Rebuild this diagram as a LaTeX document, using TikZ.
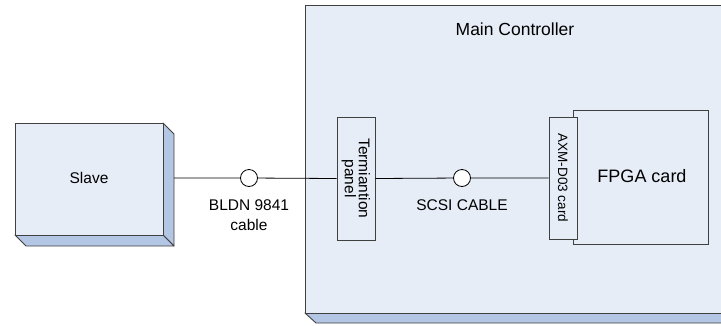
\documentclass[tikz,border=0pt]{standalone}
\usepackage{fontspec}
\setmainfont{Liberation Sans}
\definecolor{frontc}{HTML}{E6EDF7}
\definecolor{sidec}{HTML}{B3C6E3}
\definecolor{edgec}{HTML}{404040}
\begin{document}
\begin{tikzpicture}[x=1pt,y=-1pt,
  face/.style={draw=edgec,line width=0.9pt,fill=frontc},
  sideface/.style={draw=edgec,line width=0.9pt,fill=sidec,line join=round},
  cardbox/.style={draw=edgec,line width=0.9pt,fill=frontc,inner sep=0pt},
  conn/.style={draw=black,line width=0.8pt},
  joint/.style={circle,draw=black,line width=0.8pt,fill=white,minimum size=17pt,inner sep=0pt},
  lbl/.style={font=\fontsize{15.5}{17}\selectfont,align=center,inner sep=0pt}]
\useasboundingbox (0,0) rectangle (721,325);
\begin{scope}
\clip (0,0) rectangle (721,325);
% Main controller 3D box
\draw[sideface] (305,313) -- (316,323) -- (730,323) -- (730,313) -- cycle;
\node[face,anchor=north west,minimum width=430pt,minimum height=308pt,inner sep=0pt] (main) at (305,5) {};
\end{scope}
\node[lbl,font=\fontsize{17.5}{19}\selectfont] (maintitle) at (515,29) {Main Controller};
% Slave 3D box
\draw[sideface] (163,123) -- (174,134) -- (174,246) -- (163,235) -- cycle;
\draw[sideface] (15,235) -- (26,246) -- (174,246) -- (163,235) -- cycle;
\node[face,anchor=north west,minimum width=148pt,minimum height=112pt,inner sep=0pt] (slave) at (15,123) {};
\node[lbl] (slavetxt) at (89,178) {Slave};
\coordinate (slaveside) at (174,178);
% Termination panel
\node[cardbox,minimum width=38pt,minimum height=123pt] (term) at (356,178.5) {};
\node[lbl,rotate=-90,font=\fontsize{15.5}{14}\selectfont] (termtxt) at (356,178.5) {Termiantion\\panel};
% FPGA card and AXM card
\node[cardbox,minimum width=135pt,minimum height=134pt] (fpga) at (640.5,177) {};
\node[lbl,font=\fontsize{18}{20}\selectfont] (fpgatxt) at (642,176) {FPGA card};
\node[cardbox,minimum width=28pt,minimum height=122pt] (axm) at (563,178) {};
\node[lbl,rotate=-90,font=\fontsize{13.5}{15}\selectfont] (axmtxt) at (563,178) {AXM-D03 card};
% cables
\node[joint] (c1) at (249,178) {};
\node[joint] (c2) at (462,178) {};
\draw[conn] (slaveside) -- (c1) -- (term.west);
\draw[conn] (term.east) -- (c2) -- (axm.west);
\node[lbl,align=center,font=\fontsize{15.5}{19.5}\selectfont] (c1lbl) at (249,215) {BLDN 9841\\cable};
\node[lbl] (c2lbl) at (462,205) {SCSI CABLE};
\end{tikzpicture}
\end{document}
